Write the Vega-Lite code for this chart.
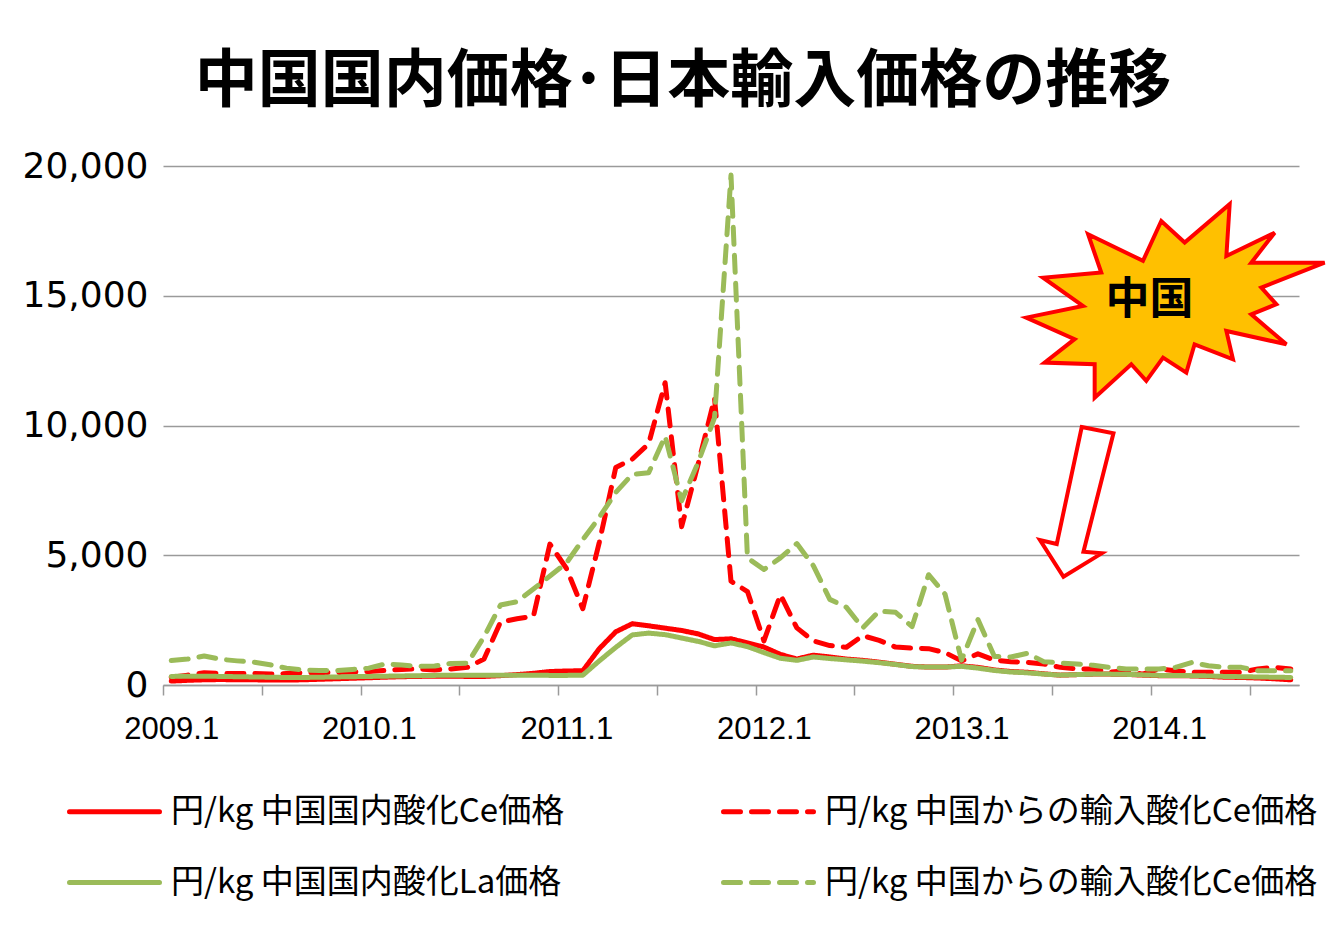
{
  "$schema": "https://vega.github.io/schema/vega-lite/v6.json",
  "width": 1136,
  "height": 519,
  "autosize": {"type": "none"},
  "padding": {"left": 163, "top": 166, "right": 40, "bottom": 252},
  "background": "white",
  "title": {"text": "中国国内価格･日本輸入価格の推移", "font": "Noto Sans CJK JP", "fontSize": 63, "fontWeight": "bold", "color": "#000000", "anchor": "middle", "dx": -48, "offset": -29, "baseline": "bottom"},
  "config": {"view": {"stroke": null}},
  "datasets": {
    "prices": [
      {"month":"2009.1","series":"円/kg 中国からの輸入酸化Ce価格","value":300},
      {"month":"2009.2","series":"円/kg 中国からの輸入酸化Ce価格","value":380},
      {"month":"2009.3","series":"円/kg 中国からの輸入酸化Ce価格","value":470},
      {"month":"2009.4","series":"円/kg 中国からの輸入酸化Ce価格","value":450},
      {"month":"2009.5","series":"円/kg 中国からの輸入酸化Ce価格","value":440},
      {"month":"2009.6","series":"円/kg 中国からの輸入酸化Ce価格","value":450},
      {"month":"2009.7","series":"円/kg 中国からの輸入酸化Ce価格","value":420},
      {"month":"2009.8","series":"円/kg 中国からの輸入酸化Ce価格","value":440},
      {"month":"2009.9","series":"円/kg 中国からの輸入酸化Ce価格","value":470},
      {"month":"2009.10","series":"円/kg 中国からの輸入酸化Ce価格","value":480},
      {"month":"2009.11","series":"円/kg 中国からの輸入酸化Ce価格","value":480},
      {"month":"2009.12","series":"円/kg 中国からの輸入酸化Ce価格","value":500},
      {"month":"2010.1","series":"円/kg 中国からの輸入酸化Ce価格","value":520},
      {"month":"2010.2","series":"円/kg 中国からの輸入酸化Ce価格","value":560},
      {"month":"2010.3","series":"円/kg 中国からの輸入酸化Ce価格","value":600},
      {"month":"2010.4","series":"円/kg 中国からの輸入酸化Ce価格","value":620},
      {"month":"2010.5","series":"円/kg 中国からの輸入酸化Ce価格","value":580},
      {"month":"2010.6","series":"円/kg 中国からの輸入酸化Ce価格","value":620},
      {"month":"2010.7","series":"円/kg 中国からの輸入酸化Ce価格","value":680},
      {"month":"2010.8","series":"円/kg 中国からの輸入酸化Ce価格","value":1000},
      {"month":"2010.9","series":"円/kg 中国からの輸入酸化Ce価格","value":2430},
      {"month":"2010.10","series":"円/kg 中国からの輸入酸化Ce価格","value":2550},
      {"month":"2010.11","series":"円/kg 中国からの輸入酸化Ce価格","value":2650},
      {"month":"2010.12","series":"円/kg 中国からの輸入酸化Ce価格","value":5430},
      {"month":"2011.1","series":"円/kg 中国からの輸入酸化Ce価格","value":4500},
      {"month":"2011.2","series":"円/kg 中国からの輸入酸化Ce価格","value":2940},
      {"month":"2011.3","series":"円/kg 中国からの輸入酸化Ce価格","value":5500},
      {"month":"2011.4","series":"円/kg 中国からの輸入酸化Ce価格","value":8380},
      {"month":"2011.5","series":"円/kg 中国からの輸入酸化Ce価格","value":8700},
      {"month":"2011.6","series":"円/kg 中国からの輸入酸化Ce価格","value":9300},
      {"month":"2011.7","series":"円/kg 中国からの輸入酸化Ce価格","value":11650},
      {"month":"2011.8","series":"円/kg 中国からの輸入酸化Ce価格","value":6100},
      {"month":"2011.9","series":"円/kg 中国からの輸入酸化Ce価格","value":8500},
      {"month":"2011.10","series":"円/kg 中国からの輸入酸化Ce価格","value":11050},
      {"month":"2011.11","series":"円/kg 中国からの輸入酸化Ce価格","value":4000},
      {"month":"2011.12","series":"円/kg 中国からの輸入酸化Ce価格","value":3600},
      {"month":"2012.1","series":"円/kg 中国からの輸入酸化Ce価格","value":1700},
      {"month":"2012.2","series":"円/kg 中国からの輸入酸化Ce価格","value":3480},
      {"month":"2012.3","series":"円/kg 中国からの輸入酸化Ce価格","value":2200},
      {"month":"2012.4","series":"円/kg 中国からの輸入酸化Ce価格","value":1700},
      {"month":"2012.5","series":"円/kg 中国からの輸入酸化Ce価格","value":1520},
      {"month":"2012.6","series":"円/kg 中国からの輸入酸化Ce価格","value":1450},
      {"month":"2012.7","series":"円/kg 中国からの輸入酸化Ce価格","value":1900},
      {"month":"2012.8","series":"円/kg 中国からの輸入酸化Ce価格","value":1720},
      {"month":"2012.9","series":"円/kg 中国からの輸入酸化Ce価格","value":1460},
      {"month":"2012.10","series":"円/kg 中国からの輸入酸化Ce価格","value":1420},
      {"month":"2012.11","series":"円/kg 中国からの輸入酸化Ce価格","value":1400},
      {"month":"2012.12","series":"円/kg 中国からの輸入酸化Ce価格","value":1250},
      {"month":"2013.1","series":"円/kg 中国からの輸入酸化Ce価格","value":930},
      {"month":"2013.2","series":"円/kg 中国からの輸入酸化Ce価格","value":1200},
      {"month":"2013.3","series":"円/kg 中国からの輸入酸化Ce価格","value":960},
      {"month":"2013.4","series":"円/kg 中国からの輸入酸化Ce価格","value":900},
      {"month":"2013.5","series":"円/kg 中国からの輸入酸化Ce価格","value":870},
      {"month":"2013.6","series":"円/kg 中国からの輸入酸化Ce価格","value":810},
      {"month":"2013.7","series":"円/kg 中国からの輸入酸化Ce価格","value":680},
      {"month":"2013.8","series":"円/kg 中国からの輸入酸化Ce価格","value":620},
      {"month":"2013.9","series":"円/kg 中国からの輸入酸化Ce価格","value":620},
      {"month":"2013.10","series":"円/kg 中国からの輸入酸化Ce価格","value":500},
      {"month":"2013.11","series":"円/kg 中国からの輸入酸化Ce価格","value":550},
      {"month":"2013.12","series":"円/kg 中国からの輸入酸化Ce価格","value":420},
      {"month":"2014.1","series":"円/kg 中国からの輸入酸化Ce価格","value":620},
      {"month":"2014.2","series":"円/kg 中国からの輸入酸化Ce価格","value":550},
      {"month":"2014.3","series":"円/kg 中国からの輸入酸化Ce価格","value":490},
      {"month":"2014.4","series":"円/kg 中国からの輸入酸化Ce価格","value":490},
      {"month":"2014.5","series":"円/kg 中国からの輸入酸化Ce価格","value":490},
      {"month":"2014.6","series":"円/kg 中国からの輸入酸化Ce価格","value":490},
      {"month":"2014.7","series":"円/kg 中国からの輸入酸化Ce価格","value":620},
      {"month":"2014.8","series":"円/kg 中国からの輸入酸化Ce価格","value":680},
      {"month":"2014.9","series":"円/kg 中国からの輸入酸化Ce価格","value":620},

      {"month":"2009.1","series":"円/kg 中国からの輸入酸化Ce価格 ","value":940},
      {"month":"2009.2","series":"円/kg 中国からの輸入酸化Ce価格 ","value":1000},
      {"month":"2009.3","series":"円/kg 中国からの輸入酸化Ce価格 ","value":1120},
      {"month":"2009.4","series":"円/kg 中国からの輸入酸化Ce価格 ","value":990},
      {"month":"2009.5","series":"円/kg 中国からの輸入酸化Ce価格 ","value":930},
      {"month":"2009.6","series":"円/kg 中国からの輸入酸化Ce価格 ","value":880},
      {"month":"2009.7","series":"円/kg 中国からの輸入酸化Ce価格 ","value":780},
      {"month":"2009.8","series":"円/kg 中国からの輸入酸化Ce価格 ","value":650},
      {"month":"2009.9","series":"円/kg 中国からの輸入酸化Ce価格 ","value":580},
      {"month":"2009.10","series":"円/kg 中国からの輸入酸化Ce価格 ","value":560},
      {"month":"2009.11","series":"円/kg 中国からの輸入酸化Ce価格 ","value":550},
      {"month":"2009.12","series":"円/kg 中国からの輸入酸化Ce価格 ","value":600},
      {"month":"2010.1","series":"円/kg 中国からの輸入酸化Ce価格 ","value":650},
      {"month":"2010.2","series":"円/kg 中国からの輸入酸化Ce価格 ","value":810},
      {"month":"2010.3","series":"円/kg 中国からの輸入酸化Ce価格 ","value":770},
      {"month":"2010.4","series":"円/kg 中国からの輸入酸化Ce価格 ","value":720},
      {"month":"2010.5","series":"円/kg 中国からの輸入酸化Ce価格 ","value":730},
      {"month":"2010.6","series":"円/kg 中国からの輸入酸化Ce価格 ","value":830},
      {"month":"2010.7","series":"円/kg 中国からの輸入酸化Ce価格 ","value":840},
      {"month":"2010.8","series":"円/kg 中国からの輸入酸化Ce価格 ","value":1860},
      {"month":"2010.9","series":"円/kg 中国からの輸入酸化Ce価格 ","value":3080},
      {"month":"2010.10","series":"円/kg 中国からの輸入酸化Ce価格 ","value":3210},
      {"month":"2010.11","series":"円/kg 中国からの輸入酸化Ce価格 ","value":3700},
      {"month":"2010.12","series":"円/kg 中国からの輸入酸化Ce価格 ","value":4200},
      {"month":"2011.1","series":"円/kg 中国からの輸入酸化Ce価格 ","value":4700},
      {"month":"2011.2","series":"円/kg 中国からの輸入酸化Ce価格 ","value":5600},
      {"month":"2011.3","series":"円/kg 中国からの輸入酸化Ce価格 ","value":6460},
      {"month":"2011.4","series":"円/kg 中国からの輸入酸化Ce価格 ","value":7420},
      {"month":"2011.5","series":"円/kg 中国からの輸入酸化Ce価格 ","value":8120},
      {"month":"2011.6","series":"円/kg 中国からの輸入酸化Ce価格 ","value":8180},
      {"month":"2011.7","series":"円/kg 中国からの輸入酸化Ce価格 ","value":9590},
      {"month":"2011.8","series":"円/kg 中国からの輸入酸化Ce価格 ","value":7100},
      {"month":"2011.9","series":"円/kg 中国からの輸入酸化Ce価格 ","value":8570},
      {"month":"2011.10","series":"円/kg 中国からの輸入酸化Ce価格 ","value":10300},
      {"month":"2011.11","series":"円/kg 中国からの輸入酸化Ce価格 ","value":19650},
      {"month":"2011.12","series":"円/kg 中国からの輸入酸化Ce価格 ","value":4900},
      {"month":"2012.1","series":"円/kg 中国からの輸入酸化Ce価格 ","value":4450},
      {"month":"2012.2","series":"円/kg 中国からの輸入酸化Ce価格 ","value":4900},
      {"month":"2012.3","series":"円/kg 中国からの輸入酸化Ce価格 ","value":5450},
      {"month":"2012.4","series":"円/kg 中国からの輸入酸化Ce価格 ","value":4600},
      {"month":"2012.5","series":"円/kg 中国からの輸入酸化Ce価格 ","value":3300},
      {"month":"2012.6","series":"円/kg 中国からの輸入酸化Ce価格 ","value":3000},
      {"month":"2012.7","series":"円/kg 中国からの輸入酸化Ce価格 ","value":2200},
      {"month":"2012.8","series":"円/kg 中国からの輸入酸化Ce価格 ","value":2850},
      {"month":"2012.9","series":"円/kg 中国からの輸入酸化Ce価格 ","value":2800},
      {"month":"2012.10","series":"円/kg 中国からの輸入酸化Ce価格 ","value":2250},
      {"month":"2012.11","series":"円/kg 中国からの輸入酸化Ce価格 ","value":4250},
      {"month":"2012.12","series":"円/kg 中国からの輸入酸化Ce価格 ","value":3500},
      {"month":"2013.1","series":"円/kg 中国からの輸入酸化Ce価格 ","value":960},
      {"month":"2013.2","series":"円/kg 中国からの輸入酸化Ce価格 ","value":2520},
      {"month":"2013.3","series":"円/kg 中国からの輸入酸化Ce価格 ","value":1100},
      {"month":"2013.4","series":"円/kg 中国からの輸入酸化Ce価格 ","value":1080},
      {"month":"2013.5","series":"円/kg 中国からの輸入酸化Ce価格 ","value":1220},
      {"month":"2013.6","series":"円/kg 中国からの輸入酸化Ce価格 ","value":900},
      {"month":"2013.7","series":"円/kg 中国からの輸入酸化Ce価格 ","value":850},
      {"month":"2013.8","series":"円/kg 中国からの輸入酸化Ce価格 ","value":810},
      {"month":"2013.9","series":"円/kg 中国からの輸入酸化Ce価格 ","value":760},
      {"month":"2013.10","series":"円/kg 中国からの輸入酸化Ce価格 ","value":680},
      {"month":"2013.11","series":"円/kg 中国からの輸入酸化Ce価格 ","value":620},
      {"month":"2013.12","series":"円/kg 中国からの輸入酸化Ce価格 ","value":620},
      {"month":"2014.1","series":"円/kg 中国からの輸入酸化Ce価格 ","value":620},
      {"month":"2014.2","series":"円/kg 中国からの輸入酸化Ce価格 ","value":680},
      {"month":"2014.3","series":"円/kg 中国からの輸入酸化Ce価格 ","value":870},
      {"month":"2014.4","series":"円/kg 中国からの輸入酸化Ce価格 ","value":740},
      {"month":"2014.5","series":"円/kg 中国からの輸入酸化Ce価格 ","value":680},
      {"month":"2014.6","series":"円/kg 中国からの輸入酸化Ce価格 ","value":680},
      {"month":"2014.7","series":"円/kg 中国からの輸入酸化Ce価格 ","value":550},
      {"month":"2014.8","series":"円/kg 中国からの輸入酸化Ce価格 ","value":550},
      {"month":"2014.9","series":"円/kg 中国からの輸入酸化Ce価格 ","value":550},

      {"month":"2009.1","series":"円/kg 中国国内酸化Ce価格","value":150},
      {"month":"2009.2","series":"円/kg 中国国内酸化Ce価格","value":180},
      {"month":"2009.3","series":"円/kg 中国国内酸化Ce価格","value":200},
      {"month":"2009.4","series":"円/kg 中国国内酸化Ce価格","value":210},
      {"month":"2009.5","series":"円/kg 中国国内酸化Ce価格","value":200},
      {"month":"2009.6","series":"円/kg 中国国内酸化Ce価格","value":200},
      {"month":"2009.7","series":"円/kg 中国国内酸化Ce価格","value":190},
      {"month":"2009.8","series":"円/kg 中国国内酸化Ce価格","value":190},
      {"month":"2009.9","series":"円/kg 中国国内酸化Ce価格","value":200},
      {"month":"2009.10","series":"円/kg 中国国内酸化Ce価格","value":220},
      {"month":"2009.11","series":"円/kg 中国国内酸化Ce価格","value":240},
      {"month":"2009.12","series":"円/kg 中国国内酸化Ce価格","value":260},
      {"month":"2010.1","series":"円/kg 中国国内酸化Ce価格","value":280},
      {"month":"2010.2","series":"円/kg 中国国内酸化Ce価格","value":300},
      {"month":"2010.3","series":"円/kg 中国国内酸化Ce価格","value":320},
      {"month":"2010.4","series":"円/kg 中国国内酸化Ce価格","value":330},
      {"month":"2010.5","series":"円/kg 中国国内酸化Ce価格","value":340},
      {"month":"2010.6","series":"円/kg 中国国内酸化Ce価格","value":340},
      {"month":"2010.7","series":"円/kg 中国国内酸化Ce価格","value":330},
      {"month":"2010.8","series":"円/kg 中国国内酸化Ce価格","value":330},
      {"month":"2010.9","series":"円/kg 中国国内酸化Ce価格","value":360},
      {"month":"2010.10","series":"円/kg 中国国内酸化Ce価格","value":400},
      {"month":"2010.11","series":"円/kg 中国国内酸化Ce価格","value":450},
      {"month":"2010.12","series":"円/kg 中国国内酸化Ce価格","value":520},
      {"month":"2011.1","series":"円/kg 中国国内酸化Ce価格","value":540},
      {"month":"2011.2","series":"円/kg 中国国内酸化Ce価格","value":550},
      {"month":"2011.3","series":"円/kg 中国国内酸化Ce価格","value":1400},
      {"month":"2011.4","series":"円/kg 中国国内酸化Ce価格","value":2050},
      {"month":"2011.5","series":"円/kg 中国国内酸化Ce価格","value":2360},
      {"month":"2011.6","series":"円/kg 中国国内酸化Ce価格","value":2280},
      {"month":"2011.7","series":"円/kg 中国国内酸化Ce価格","value":2190},
      {"month":"2011.8","series":"円/kg 中国国内酸化Ce価格","value":2100},
      {"month":"2011.9","series":"円/kg 中国国内酸化Ce価格","value":1970},
      {"month":"2011.10","series":"円/kg 中国国内酸化Ce価格","value":1750},
      {"month":"2011.11","series":"円/kg 中国国内酸化Ce価格","value":1780},
      {"month":"2011.12","series":"円/kg 中国国内酸化Ce価格","value":1620},
      {"month":"2012.1","series":"円/kg 中国国内酸化Ce価格","value":1460},
      {"month":"2012.2","series":"円/kg 中国国内酸化Ce価格","value":1180},
      {"month":"2012.3","series":"円/kg 中国国内酸化Ce価格","value":1000},
      {"month":"2012.4","series":"円/kg 中国国内酸化Ce価格","value":1150},
      {"month":"2012.5","series":"円/kg 中国国内酸化Ce価格","value":1080},
      {"month":"2012.6","series":"円/kg 中国国内酸化Ce価格","value":1000},
      {"month":"2012.7","series":"円/kg 中国国内酸化Ce価格","value":950},
      {"month":"2012.8","series":"円/kg 中国国内酸化Ce価格","value":880},
      {"month":"2012.9","series":"円/kg 中国国内酸化Ce価格","value":800},
      {"month":"2012.10","series":"円/kg 中国国内酸化Ce価格","value":720},
      {"month":"2012.11","series":"円/kg 中国国内酸化Ce価格","value":690},
      {"month":"2012.12","series":"円/kg 中国国内酸化Ce価格","value":690},
      {"month":"2013.1","series":"円/kg 中国国内酸化Ce価格","value":740},
      {"month":"2013.2","series":"円/kg 中国国内酸化Ce価格","value":680},
      {"month":"2013.3","series":"円/kg 中国国内酸化Ce価格","value":580},
      {"month":"2013.4","series":"円/kg 中国国内酸化Ce価格","value":520},
      {"month":"2013.5","series":"円/kg 中国国内酸化Ce価格","value":490},
      {"month":"2013.6","series":"円/kg 中国国内酸化Ce価格","value":430},
      {"month":"2013.7","series":"円/kg 中国国内酸化Ce価格","value":380},
      {"month":"2013.8","series":"円/kg 中国国内酸化Ce価格","value":400},
      {"month":"2013.9","series":"円/kg 中国国内酸化Ce価格","value":420},
      {"month":"2013.10","series":"円/kg 中国国内酸化Ce価格","value":420},
      {"month":"2013.11","series":"円/kg 中国国内酸化Ce価格","value":410},
      {"month":"2013.12","series":"円/kg 中国国内酸化Ce価格","value":380},
      {"month":"2014.1","series":"円/kg 中国国内酸化Ce価格","value":360},
      {"month":"2014.2","series":"円/kg 中国国内酸化Ce価格","value":360},
      {"month":"2014.3","series":"円/kg 中国国内酸化Ce価格","value":350},
      {"month":"2014.4","series":"円/kg 中国国内酸化Ce価格","value":330},
      {"month":"2014.5","series":"円/kg 中国国内酸化Ce価格","value":300},
      {"month":"2014.6","series":"円/kg 中国国内酸化Ce価格","value":290},
      {"month":"2014.7","series":"円/kg 中国国内酸化Ce価格","value":270},
      {"month":"2014.8","series":"円/kg 中国国内酸化Ce価格","value":240},
      {"month":"2014.9","series":"円/kg 中国国内酸化Ce価格","value":200},

      {"month":"2009.1","series":"円/kg 中国国内酸化La価格","value":330},
      {"month":"2009.2","series":"円/kg 中国国内酸化La価格","value":340},
      {"month":"2009.3","series":"円/kg 中国国内酸化La価格","value":340},
      {"month":"2009.4","series":"円/kg 中国国内酸化La価格","value":330},
      {"month":"2009.5","series":"円/kg 中国国内酸化La価格","value":320},
      {"month":"2009.6","series":"円/kg 中国国内酸化La価格","value":310},
      {"month":"2009.7","series":"円/kg 中国国内酸化La価格","value":300},
      {"month":"2009.8","series":"円/kg 中国国内酸化La価格","value":290},
      {"month":"2009.9","series":"円/kg 中国国内酸化La価格","value":290},
      {"month":"2009.10","series":"円/kg 中国国内酸化La価格","value":300},
      {"month":"2009.11","series":"円/kg 中国国内酸化La価格","value":310},
      {"month":"2009.12","series":"円/kg 中国国内酸化La価格","value":320},
      {"month":"2010.1","series":"円/kg 中国国内酸化La価格","value":330},
      {"month":"2010.2","series":"円/kg 中国国内酸化La価格","value":340},
      {"month":"2010.3","series":"円/kg 中国国内酸化La価格","value":350},
      {"month":"2010.4","series":"円/kg 中国国内酸化La価格","value":360},
      {"month":"2010.5","series":"円/kg 中国国内酸化La価格","value":370},
      {"month":"2010.6","series":"円/kg 中国国内酸化La価格","value":380},
      {"month":"2010.7","series":"円/kg 中国国内酸化La価格","value":380},
      {"month":"2010.8","series":"円/kg 中国国内酸化La価格","value":380},
      {"month":"2010.9","series":"円/kg 中国国内酸化La価格","value":380},
      {"month":"2010.10","series":"円/kg 中国国内酸化La価格","value":380},
      {"month":"2010.11","series":"円/kg 中国国内酸化La価格","value":380},
      {"month":"2010.12","series":"円/kg 中国国内酸化La価格","value":370},
      {"month":"2011.1","series":"円/kg 中国国内酸化La価格","value":370},
      {"month":"2011.2","series":"円/kg 中国国内酸化La価格","value":380},
      {"month":"2011.3","series":"円/kg 中国国内酸化La価格","value":930},
      {"month":"2011.4","series":"円/kg 中国国内酸化La価格","value":1450},
      {"month":"2011.5","series":"円/kg 中国国内酸化La価格","value":1930},
      {"month":"2011.6","series":"円/kg 中国国内酸化La価格","value":2000},
      {"month":"2011.7","series":"円/kg 中国国内酸化La価格","value":1940},
      {"month":"2011.8","series":"円/kg 中国国内酸化La価格","value":1810},
      {"month":"2011.9","series":"円/kg 中国国内酸化La価格","value":1680},
      {"month":"2011.10","series":"円/kg 中国国内酸化La価格","value":1510},
      {"month":"2011.11","series":"円/kg 中国国内酸化La価格","value":1620},
      {"month":"2011.12","series":"円/kg 中国国内酸化La価格","value":1480},
      {"month":"2012.1","series":"円/kg 中国国内酸化La価格","value":1250},
      {"month":"2012.2","series":"円/kg 中国国内酸化La価格","value":1030},
      {"month":"2012.3","series":"円/kg 中国国内酸化La価格","value":950},
      {"month":"2012.4","series":"円/kg 中国国内酸化La価格","value":1080},
      {"month":"2012.5","series":"円/kg 中国国内酸化La価格","value":1020},
      {"month":"2012.6","series":"円/kg 中国国内酸化La価格","value":970},
      {"month":"2012.7","series":"円/kg 中国国内酸化La価格","value":920},
      {"month":"2012.8","series":"円/kg 中国国内酸化La価格","value":860},
      {"month":"2012.9","series":"円/kg 中国国内酸化La価格","value":790},
      {"month":"2012.10","series":"円/kg 中国国内酸化La価格","value":710},
      {"month":"2012.11","series":"円/kg 中国国内酸化La価格","value":690},
      {"month":"2012.12","series":"円/kg 中国国内酸化La価格","value":690},
      {"month":"2013.1","series":"円/kg 中国国内酸化La価格","value":720},
      {"month":"2013.2","series":"円/kg 中国国内酸化La価格","value":650},
      {"month":"2013.3","series":"円/kg 中国国内酸化La価格","value":560},
      {"month":"2013.4","series":"円/kg 中国国内酸化La価格","value":500},
      {"month":"2013.5","series":"円/kg 中国国内酸化La価格","value":470},
      {"month":"2013.6","series":"円/kg 中国国内酸化La価格","value":420},
      {"month":"2013.7","series":"円/kg 中国国内酸化La価格","value":380},
      {"month":"2013.8","series":"円/kg 中国国内酸化La価格","value":400},
      {"month":"2013.9","series":"円/kg 中国国内酸化La価格","value":420},
      {"month":"2013.10","series":"円/kg 中国国内酸化La価格","value":420},
      {"month":"2013.11","series":"円/kg 中国国内酸化La価格","value":410},
      {"month":"2013.12","series":"円/kg 中国国内酸化La価格","value":390},
      {"month":"2014.1","series":"円/kg 中国国内酸化La価格","value":370},
      {"month":"2014.2","series":"円/kg 中国国内酸化La価格","value":370},
      {"month":"2014.3","series":"円/kg 中国国内酸化La価格","value":360},
      {"month":"2014.4","series":"円/kg 中国国内酸化La価格","value":350},
      {"month":"2014.5","series":"円/kg 中国国内酸化La価格","value":330},
      {"month":"2014.6","series":"円/kg 中国国内酸化La価格","value":320},
      {"month":"2014.7","series":"円/kg 中国国内酸化La価格","value":310},
      {"month":"2014.8","series":"円/kg 中国国内酸化La価格","value":300},
      {"month":"2014.9","series":"円/kg 中国国内酸化La価格","value":290}
    ],
    "burst": [{"month": "2014.2", "value": 14800}],
    "burstLabel": [{"month": "2013.12", "value": 14800, "label": "中国"}],
    "arrow": [{"month": "2013.8", "value": 7050}]
  },
  "layer": [
    {
      "data": {"name": "prices"},
      "mark": {"type": "line", "strokeWidth": 5, "strokeCap": "round", "strokeJoin": "round"},
      "encoding": {
        "x": {
          "field": "month", "type": "ordinal", "sort": null,
          "scale": {"type": "point", "padding": 0.5},
          "axis": {
            "title": null,
            "values": ["2009.1","2009.7","2010.1","2010.7","2011.1","2011.7","2012.1","2012.7","2013.1","2013.7","2014.1","2014.7"],
            "labelExpr": "slice(datum.value, -2) == '.1' ? datum.value : ''",
            "tickOffset": -8.23, "labelOffset": 8.23,
            "tickSize": 10, "tickColor": "#9a9a9a", "tickWidth": 1.5,
            "domainColor": "#9a9a9a", "domainWidth": 1.5,
            "labelFont": "Liberation Sans", "labelFontSize": 31, "labelColor": "#000000",
            "labelPadding": 19, "labelAngle": 0, "labelOverlap": false, "labelFlush": false, "grid": false
          }
        },
        "y": {
          "field": "value", "type": "quantitative",
          "scale": {"domain": [0, 20000], "nice": false},
          "axis": {
            "title": null, "values": [0, 5000, 10000, 15000, 20000], "format": ",d",
            "domain": false, "ticks": false, "labelPadding": 15,
            "labelFont": "DejaVu Sans", "labelFontSize": 36, "labelColor": "#000000",
            "grid": true, "gridColor": "#9a9a9a", "gridWidth": 1.5
          }
        },
        "color": {
          "field": "series", "type": "nominal",
          "scale": {
            "domain": ["円/kg 中国国内酸化Ce価格", "円/kg 中国からの輸入酸化Ce価格", "円/kg 中国国内酸化La価格", "円/kg 中国からの輸入酸化Ce価格 "],
            "range": ["#FF0000", "#FF0000", "#9BBB59", "#9BBB59"]
          },
          "legend": {
            "orient": "none", "legendX": -96, "legendY": 598, "columns": 2, "direction": "horizontal", "title": null,
            "symbolType": "stroke", "symbolSize": 8100, "symbolStrokeWidth": 5,
            "labelFont": "Noto Sans CJK JP", "labelFontSize": 33, "labelColor": "#000000",
            "labelLimit": 0, "labelOffset": 9, "columnPadding": 148, "rowPadding": 6,
            "encode": {"symbols": {"update": {"strokeCap": {"value": "round"}}}}
          }
        },
        "strokeDash": {
          "field": "series", "type": "nominal",
          "scale": {
            "domain": ["円/kg 中国国内酸化Ce価格", "円/kg 中国からの輸入酸化Ce価格", "円/kg 中国国内酸化La価格", "円/kg 中国からの輸入酸化Ce価格 "],
            "range": [[1, 0], [17, 11], [1, 0], [17, 11]]
          },
          "legend": {
            "orient": "none", "legendX": -96, "legendY": 598, "columns": 2, "direction": "horizontal", "title": null,
            "symbolType": "stroke", "symbolSize": 8100, "symbolStrokeWidth": 5,
            "labelFont": "Noto Sans CJK JP", "labelFontSize": 33, "labelColor": "#000000",
            "labelLimit": 0, "labelOffset": 9, "columnPadding": 148, "rowPadding": 6,
            "encode": {"symbols": {"update": {"strokeCap": {"value": "round"}}}}
          }
        }
      }
    },
    {
      "data": {"name": "burst"},
      "mark": {
        "type": "point", "filled": true, "fill": "#FFC000", "stroke": "#FF0000", "strokeWidth": 4, "opacity": 1, "size": 90000,
        "shape": "M-0.583,-0.445L-0.217,-0.267L-0.095,-0.533L0.061,-0.389L0.361,-0.645L0.339,-0.3L0.661,-0.455L0.505,-0.255L0.994,-0.255L0.572,-0.089L0.672,0.022L0.505,0.089L0.739,0.289L0.339,0.2L0.383,0.389L0.127,0.289L0.072,0.478L-0.083,0.378L-0.195,0.533L-0.295,0.422L-0.539,0.645L-0.539,0.422L-0.873,0.411L-0.673,0.255L-0.995,0.111L-0.617,0.033L-0.883,-0.155L-0.495,-0.189Z"
      },
      "encoding": {
        "x": {"field": "month", "type": "ordinal", "sort": null},
        "y": {"field": "value", "type": "quantitative"}
      }
    },
    {
      "data": {"name": "burstLabel"},
      "mark": {"type": "text", "font": "Noto Sans CJK JP", "fontSize": 44, "fontWeight": "bold", "color": "#000000", "align": "center", "baseline": "middle", "dx": 7},
      "encoding": {
        "x": {"field": "month", "type": "ordinal", "sort": null},
        "y": {"field": "value", "type": "quantitative"},
        "text": {"field": "label"}
      }
    },
    {
      "data": {"name": "arrow"},
      "mark": {
        "type": "point", "filled": true, "fill": "#FFFFFF", "stroke": "#FF0000", "strokeWidth": 4, "opacity": 1, "size": 25600,
        "shape": "M0.0625,-0.9375L0.459,-0.859L0.084,0.621L0.3125,0.641L-0.166,0.934L-0.459,0.475L-0.25,0.525Z"
      },
      "encoding": {
        "x": {"field": "month", "type": "ordinal", "sort": null},
        "y": {"field": "value", "type": "quantitative"}
      }
    }
  ]
}
